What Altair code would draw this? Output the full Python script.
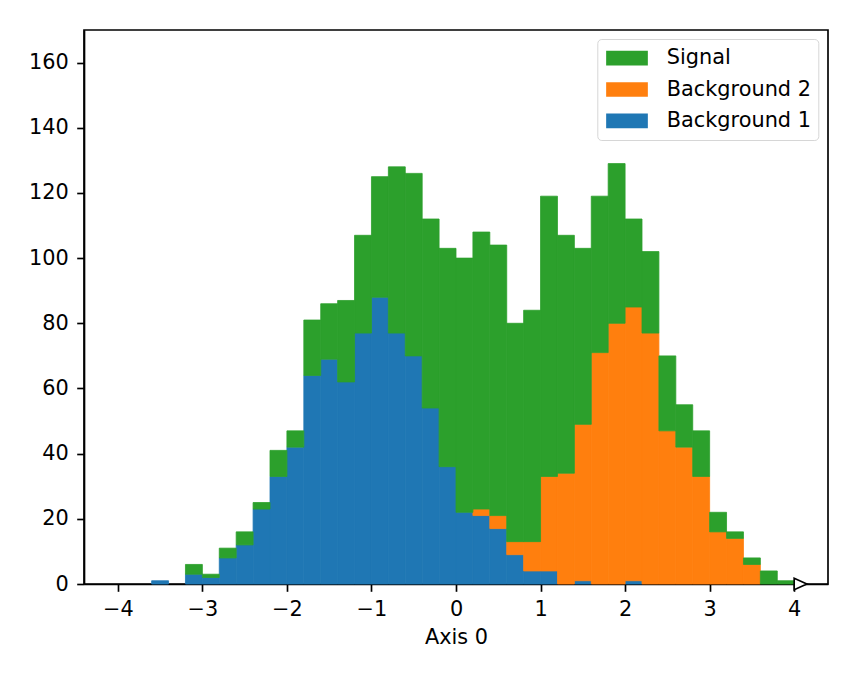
import altair as alt
import pandas as pd

# histogram bins: 40 bins of width 0.2 from -4 to 4
bin_lo = [round(-4.0 + 0.2 * i, 1) for i in range(40)]
bin_width = 0.2

background1 = [0, 0, 1, 0, 3, 2, 8, 12, 23, 33, 42, 64, 69, 62, 77, 88, 77, 70, 54, 36,
               22, 21, 17, 9, 4, 4, 0, 1, 0, 0, 1, 0, 0, 0, 0, 0, 0, 0, 0, 0]
background2 = [0, 0, 0, 0, 0, 0, 0, 0, 0, 0, 0, 0, 0, 0, 0, 0, 0, 0, 0, 0,
               0, 2, 4, 4, 9, 29, 34, 48, 71, 80, 84, 77, 47, 42, 33, 16, 14, 6, 0, 0]
signal = [0, 0, 0, 0, 3, 1, 3, 4, 2, 8, 5, 17, 17, 25, 30, 37, 51, 56, 58, 67,
          78, 85, 83, 67, 71, 86, 73, 54, 48, 49, 27, 25, 23, 13, 14, 6, 2, 2, 4, 1]

series_names = ["Background 1", "Background 2", "Signal"]
series_vals = [background1, background2, signal]
legend_order = ["Signal", "Background 2", "Background 1"]
legend_colors = ["#2ca02c", "#ff7f0e", "#1f77b4"]

x_ticks = [-4, -3, -2, -1, 0, 1, 2, 3, 4]
y_ticks = [0, 20, 40, 60, 80, 100, 120, 140, 160]

overflow_marker_x = [4.075]
overflow_marker_y = [0]

rows = []
base = [0] * len(bin_lo)
for name, vals in zip(series_names, series_vals):
    for i, v in enumerate(vals):
        if v > 0:
            rows.append({"series": name, "x0": bin_lo[i], "x1": round(bin_lo[i] + bin_width, 1),
                         "y0": base[i], "y1": base[i] + v})
        base[i] += v
df = pd.DataFrame(rows)

FS = 20.83
LW = 1.67

xscale = alt.Scale(domain=[-4.4, 4.4], nice=False, zero=False)
yscale = alt.Scale(domain=[0, 170], nice=False)
cscale = alt.Scale(domain=legend_order, range=legend_colors)

bars = alt.Chart(df).mark_rect(strokeWidth=0.8).encode(
    x=alt.X("x0:Q", scale=xscale,
            axis=alt.Axis(title="Axis 0", values=x_ticks,
                          labelExpr="replace(format(datum.value, 'd'), '-', '\u2212')",
                          labelPadding=8, titlePadding=8.2)),
    x2="x1:Q",
    y=alt.Y("y0:Q", scale=yscale,
            axis=alt.Axis(title=None, values=y_ticks, labelPadding=8.4)),
    y2="y1:Q",
    color=alt.Color("series:N", scale=cscale,
                    legend=alt.Legend(title=None, orient="none", legendX=513.3, legendY=9,
                                      symbolType="M-1,-0.35L1,-0.35L1,0.35L-1,0.35Z",
                                      symbolSize=1739, symbolStrokeWidth=0,
                                      symbolOffset=1.55, labelOffset=18.8,
                                      labelFont="DejaVu Sans", labelFontSize=FS,
                                      labelColor="black", padding=7.15,
                                      fillColor="rgba(255,255,255,0.8)",
                                      strokeColor="#d6d6d6", cornerRadius=4,
                                      clipHeight=24, rowPadding=7.35)),
    stroke=alt.Stroke("series:N", scale=cscale, legend=None),
)

marker_df = pd.DataFrame({"x": overflow_marker_x, "y": overflow_marker_y})
marker = alt.Chart(marker_df).mark_point(
    shape="M-1,-0.9L1,0L-1,0.9Z", size=161, filled=True, fill="white",
    stroke="black", strokeWidth=LW, opacity=1, clip=False
).encode(x=alt.X("x:Q", scale=xscale), y=alt.Y("y:Q", scale=yscale))

chart = alt.layer(bars, marker).properties(
    width=744, height=554,
    autosize=alt.AutoSizeParams(type="none"),
    padding={"left": 76, "top": 22, "right": 20, "bottom": 70},
    background="white",
).configure_view(
    stroke="black", strokeWidth=LW
).configure_axis(
    domainColor="black", domainWidth=LW, tickColor="black", tickWidth=LW,
    tickSize=7.3, grid=False, labelFont="DejaVu Sans", labelFontSize=FS,
    labelColor="black", titleFont="DejaVu Sans", titleFontSize=FS,
    titleFontWeight="normal", titleColor="black"
)

chart.save("out.html", embed_options={"renderer": "svg", "actions": False})
